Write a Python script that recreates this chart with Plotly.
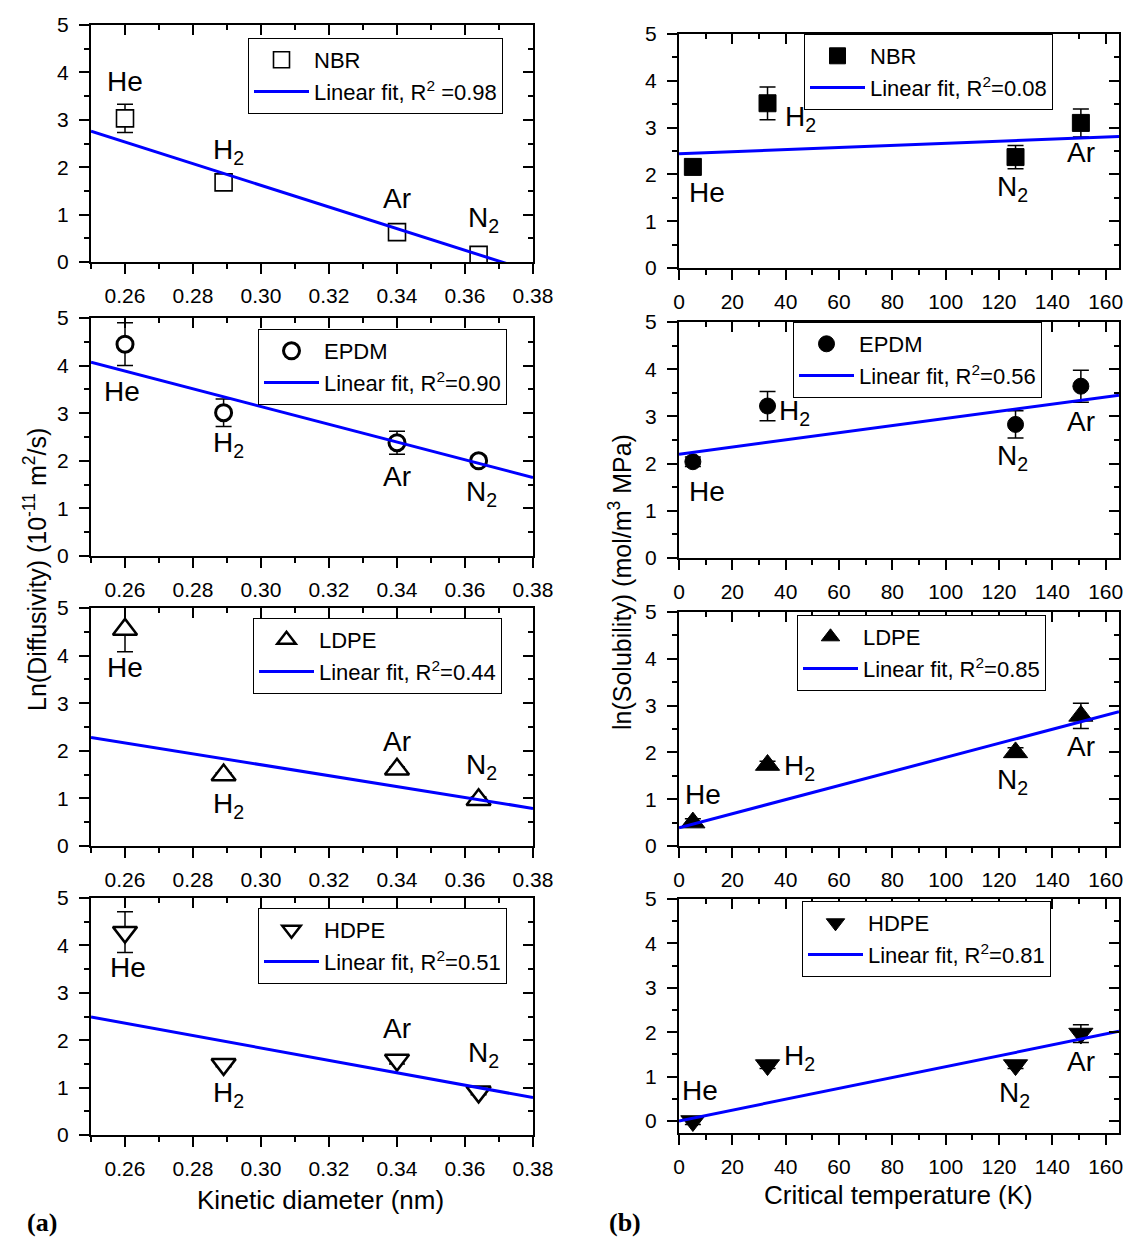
import plotly.graph_objects as go

W, H = 1127, 1241

# ---------------- data ----------------
gas_labels = ["He", "H<sub>2</sub>", "Ar", "N<sub>2</sub>"]
kinetic_diameter = [0.26, 0.289, 0.34, 0.364]      # nm
critical_temperature = [5.2, 33.2, 150.7, 126.2]   # K

polymers = ["NBR", "EPDM", "LDPE", "HDPE"]

lnD_NBR = [3.03, 1.68, 0.63, 0.15]
lnD_NBR_err = [0.30, 0.15, 0.15, 0.10]
lnD_EPDM = [4.45, 3.01, 2.38, 2.00]
lnD_EPDM_err = [0.45, 0.29, 0.24, 0.10]
lnD_LDPE = [4.55, 1.49, 1.61, 0.97]
lnD_LDPE_err = [0.47, 0.05, 0.05, 0.06]
lnD_HDPE = [4.28, 1.49, 1.58, 0.91]
lnD_HDPE_err = [0.43, 0.05, 0.08, 0.06]

lnS_NBR = [2.16, 3.52, 3.10, 2.37]
lnS_NBR_err = [0.10, 0.35, 0.30, 0.25]
lnS_EPDM = [2.04, 3.22, 3.64, 2.83]
lnS_EPDM_err = [0.10, 0.31, 0.34, 0.29]
lnS_LDPE = [0.50, 1.73, 2.78, 2.00]
lnS_LDPE_err = [0.08, 0.08, 0.27, 0.10]
lnS_HDPE = [0.00, 1.26, 1.97, 1.26]
lnS_HDPE_err = [0.08, 0.08, 0.20, 0.08]

# linear-fit end points
fitD_x = [0.25, 0.38]
fitD_NBR = [2.76, -0.21]
fitD_EPDM = [4.07, 1.65]
fitD_LDPE = [2.28, 0.79]
fitD_HDPE = [2.49, 0.79]
fitS_x = [0, 165]
fitS_NBR = [2.44, 2.81]
fitS_EPDM = [2.20, 3.45]
fitS_LDPE = [0.39, 2.87]
fitS_HDPE = [0.00, 2.02]

r2_D = [" =0.98", "=0.90", "=0.44", "=0.51"]
r2_S = ["=0.08", "=0.56", "=0.85", "=0.81"]

# tick labels
D_ticks = [0.26, 0.28, 0.30, 0.32, 0.34, 0.36, 0.38]
D_ticktext = ["0.26", "0.28", "0.30", "0.32", "0.34", "0.36", "0.38"]
D_minor = [0.25, 0.27, 0.29, 0.31, 0.33, 0.35, 0.37]
T_ticks = [0, 20, 40, 60, 80, 100, 120, 140, 160]
T_minor = [10, 30, 50, 70, 90, 110, 130, 150]
Y_ticks = [0, 1, 2, 3, 4, 5]
Y_minor = [0.5, 1.5, 2.5, 3.5, 4.5]

# ---------------- layout / style ----------------
FONT = "Arial"
BLUE = "#0000FF"

# plot-area pixel boxes (left, top, right, bottom)
boxes = [
    (91, 25, 533, 262), (91, 318, 533, 556), (91, 608, 533, 846), (91, 898, 533, 1135),
    (679, 34, 1119, 268), (679, 322, 1119, 558), (679, 612, 1119, 846), (679, 899, 1119, 1133),
]
yranges = [[0, 5]] * 7 + [[-0.27, 5.0]]
legend_pos = [(248, 38), (258, 329), (253, 618), (258, 908),
              (804, 34), (793, 322), (797, 615), (802, 901)]

# label offsets in px (xshift, yshift) for He, H2, Ar, N2
label_offsets = [
    [(0, 37), (5, 31), (0, 34), (5, 35)],
    [(-3, -47), (5, -32), (0, -34), (3, -33)],
    [(0, -38), (5, -30), (0, 28), (3, 33)],
    [(3, -35), (5, -30), (0, 32), (5, 37)],
    [(14, -26), (33, -15), (0, -30), (-3, -31)],
    [(14, -30), (27, -6), (0, -35), (-3, -33)],
    [(10, 28), (32, -2), (0, -31), (-3, -29)],
    [(7, 31), (32, 8), (0, -28), (-1, -29)],
]

diff_vals = [lnD_NBR, lnD_EPDM, lnD_LDPE, lnD_HDPE]
diff_errs = [lnD_NBR_err, lnD_EPDM_err, lnD_LDPE_err, lnD_HDPE_err]
diff_fits = [fitD_NBR, fitD_EPDM, fitD_LDPE, fitD_HDPE]
sol_vals = [lnS_NBR, lnS_EPDM, lnS_LDPE, lnS_HDPE]
sol_errs = [lnS_NBR_err, lnS_EPDM_err, lnS_LDPE_err, lnS_HDPE_err]
sol_fits = [fitS_NBR, fitS_EPDM, fitS_LDPE, fitS_HDPE]

symbols = ["square", "circle", "triangle-up", "triangle-down"]
msizes = [17, 16, 21, 21]
mlw = [1.6, 3, 2.5, 2.5]

fig = go.Figure()
annotations = []
layout = dict(width=W, height=H,
              margin=dict(l=0, r=0, t=0, b=0, pad=0, autoexpand=False),
              paper_bgcolor="white", plot_bgcolor="white", showlegend=True,
              font=dict(family=FONT, color="black"))


def axn(letter, i):
    return letter if i == 1 else f"{letter}{i}"


def axkey(letter, i):
    return f"{letter}axis" if i == 1 else f"{letter}axis{i}"


for p in range(8):
    i = p + 1
    left_col = p < 4
    k = p % 4
    l, t, r, b = boxes[p]
    xdom = [l / W, r / W]
    ydom = [1 - b / H, 1 - t / H]
    xr = [0.25, 0.38] if left_col else [0, 165]
    xt = D_ticks if left_col else T_ticks
    xtt = D_ticktext if left_col else [str(v) for v in T_ticks]
    xm = D_minor if left_col else T_minor
    xa, ya = axn("x", i), axn("y", i)
    xo, yo = f"x{i + 8}", f"y{i + 8}"

    common = dict(showgrid=False, zeroline=False, linecolor="black", linewidth=2,
                  tickcolor="black", tickwidth=2, ticklen=10, automargin=False)
    layout[axkey("x", i)] = dict(domain=xdom, anchor=ya, range=xr, tickmode="array",
                                 tickvals=xt, ticktext=xtt, ticks="outside", showline=True,
                                 tickfont=dict(size=21, family=FONT, color="black"),
                                 ticklabelstandoff=4,
                                 minor=dict(tickmode="array", tickvals=xm, ticks="outside",
                                            ticklen=5, tickwidth=2, tickcolor="black"),
                                 **common)
    layout[axkey("y", i)] = dict(domain=ydom, anchor=xa, range=yranges[p], tickmode="array",
                                 tickvals=Y_ticks, ticks="outside", showline=True,
                                 tickfont=dict(size=21, family=FONT, color="black"),
                                 ticklabelstandoff=6,
                                 minor=dict(tickmode="array", tickvals=Y_minor, ticks="outside",
                                            ticklen=5, tickwidth=2, tickcolor="black"),
                                 **common)
    layout[f"xaxis{i + 8}"] = dict(overlaying=xa, anchor=ya, side="top", range=xr,
                                   tickmode="array", tickvals=xt, ticks="inside",
                                   showticklabels=False, showline=True,
                                   minor=dict(tickmode="array", tickvals=xm, ticks="inside",
                                              ticklen=5, tickwidth=2, tickcolor="black"),
                                   **common)
    layout[f"yaxis{i + 8}"] = dict(overlaying=ya, anchor=xa, side="right", range=yranges[p],
                                   tickmode="array", tickvals=Y_ticks, ticks="inside",
                                   showticklabels=False, showline=True,
                                   minor=dict(tickmode="array", tickvals=Y_minor, ticks="inside",
                                              ticklen=5, tickwidth=2, tickcolor="black"),
                                   **common)
    # dummy traces so the mirror axes are drawn
    fig.add_trace(go.Scatter(x=[None], y=[None], xaxis=xo, yaxis=ya, showlegend=False,
                             hoverinfo="skip"))
    fig.add_trace(go.Scatter(x=[None], y=[None], xaxis=xa, yaxis=yo, showlegend=False,
                             hoverinfo="skip"))

    xs = kinetic_diameter if left_col else critical_temperature
    ys = diff_vals[k] if left_col else sol_vals[k]
    es = diff_errs[k] if left_col else sol_errs[k]
    fy = diff_fits[k] if left_col else sol_fits[k]
    fx = fitD_x if left_col else fitS_x
    r2 = r2_D[k] if left_col else r2_S[k]
    leg = "legend" if i == 1 else f"legend{i}"

    fill = "white" if left_col else "black"
    fig.add_trace(go.Scatter(
        x=xs, y=ys, mode="markers", name=polymers[k], xaxis=xa, yaxis=ya, legend=leg,
        marker=dict(symbol=symbols[k], size=msizes[k], color=fill,
                    line=dict(color="black", width=mlw[k] if left_col else 1)),
        error_y=dict(type="data", array=es, color="black", thickness=1.5, width=8),
    ))
    fig.add_trace(go.Scatter(
        x=fx, y=fy, mode="lines", name="Linear fit, R<sup>2</sup>" + r2,
        xaxis=xa, yaxis=ya, legend=leg, line=dict(color=BLUE, width=3),
    ))

    lx, ly = legend_pos[p]
    layout[leg] = dict(x=lx / W, y=1 - ly / H, xanchor="left", yanchor="top",
                       xref="paper", yref="paper", bordercolor="black", borderwidth=1,
                       bgcolor="white", font=dict(size=22, family=FONT, color="black"),
                       itemwidth=55, tracegroupgap=0)

    for j, g in enumerate(gas_labels):
        dx, dy = label_offsets[p][j]
        annotations.append(dict(x=xs[j], y=ys[j], xref=xa, yref=ya, text=g,
                                showarrow=False, xshift=dx, yshift=dy,
                                xanchor="center", yanchor="middle",
                                font=dict(size=28, family=FONT, color="black")))

# axis titles and panel tags
paper = dict(xref="paper", yref="paper", showarrow=False, xanchor="center", yanchor="middle")
annotations += [
    dict(x=35 / W, y=1 - 570 / H, textangle=-90,
         text="Ln(Diffusivity) (10<sup>-11</sup> m<sup>2</sup>/s)",
         font=dict(size=25, family=FONT, color="black"), **paper),
    dict(x=620 / W, y=1 - 582 / H, textangle=-90,
         text="ln(Solubility) (mol/m<sup>3</sup> MPa)",
         font=dict(size=25, family=FONT, color="black"), **paper),
    dict(x=320 / W, y=1 - 1200 / H, text="Kinetic diameter (nm)",
         font=dict(size=26, family=FONT, color="black"), **paper),
    dict(x=898 / W, y=1 - 1195 / H, text="Critical temperature (K)",
         font=dict(size=26, family=FONT, color="black"), **paper),
    dict(x=42 / W, y=1 - 1222 / H, text="<b>(a)</b>",
         font=dict(size=26, family="Liberation Serif", color="black"), **paper),
    dict(x=625 / W, y=1 - 1222 / H, text="<b>(b)</b>",
         font=dict(size=26, family="Liberation Serif", color="black"), **paper),
]
layout["annotations"] = annotations
fig.update_layout(**layout)
fig.write_html("out.html")
